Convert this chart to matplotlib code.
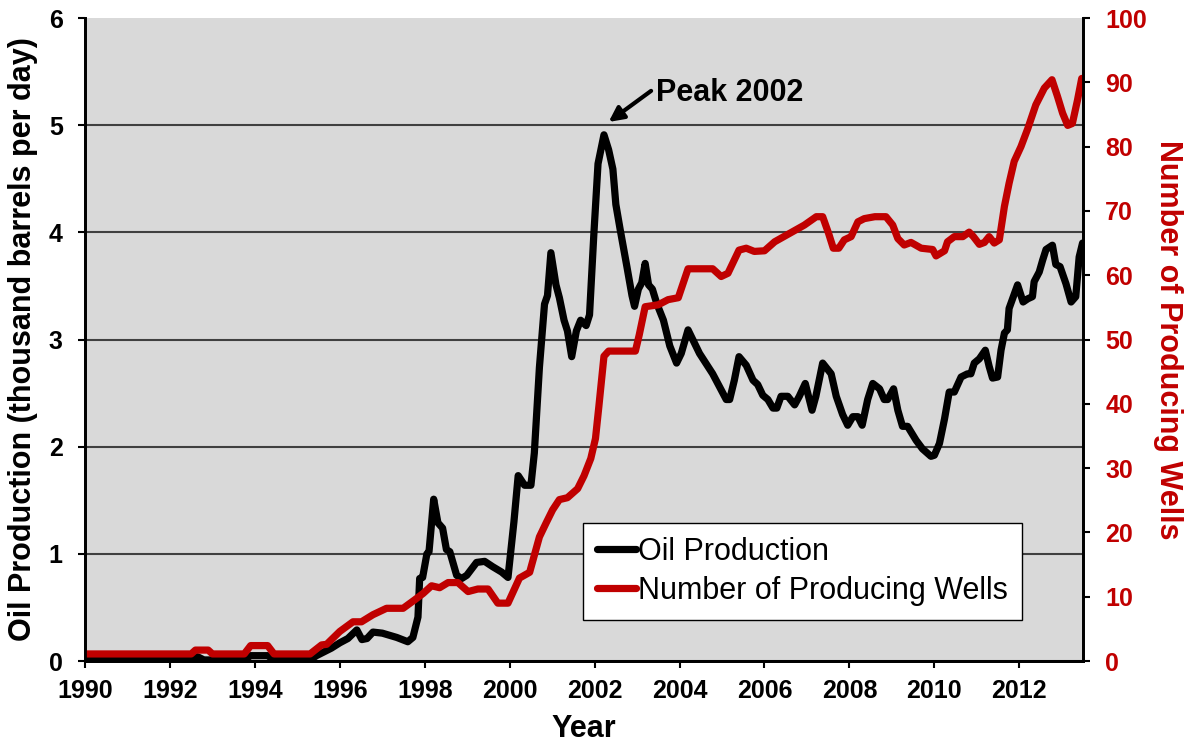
import matplotlib
matplotlib.use('Agg')
import matplotlib.pyplot as plt

plt.rcParams['font.family'] = ['Liberation Sans', 'DejaVu Sans']

# 石油产量 (千桶/天)
oil_years = [1990.0, 1992.5, 1992.65, 1992.8, 1993.75, 1993.9, 1994.3, 1994.45, 1995.3, 1995.45,
             1995.6, 1995.8, 1996.0, 1996.19, 1996.4, 1996.52, 1996.64, 1996.78, 1997.0, 1997.34,
             1997.6, 1997.72, 1997.84, 1997.88, 1997.95, 1998.05, 1998.1, 1998.21, 1998.31, 1998.42,
             1998.51, 1998.59, 1998.75, 1998.87, 1998.99, 1999.22, 1999.41, 1999.6, 1999.81, 1999.96,
             2000.1, 2000.2, 2000.35, 2000.5, 2000.58, 2000.7, 2000.82, 2000.89, 2000.97, 2001.09,
             2001.17, 2001.28, 2001.36, 2001.46, 2001.57, 2001.67, 2001.8, 2001.88, 2001.98, 2002.08,
             2002.22, 2002.33, 2002.43, 2002.5, 2002.6, 2002.76, 2002.88, 2002.94, 2003.03, 2003.11,
             2003.19, 2003.27, 2003.36, 2003.46, 2003.62, 2003.77, 2003.93, 2004.04, 2004.2, 2004.47,
             2004.78, 2005.1, 2005.18, 2005.29, 2005.4, 2005.57, 2005.73, 2005.84, 2005.96, 2006.08,
             2006.2, 2006.29, 2006.39, 2006.55, 2006.71, 2006.82, 2006.96, 2007.12, 2007.21, 2007.37,
             2007.57, 2007.69, 2007.84, 2007.96, 2008.08, 2008.2, 2008.3, 2008.43, 2008.55, 2008.71,
             2008.82, 2008.9, 2009.04, 2009.14, 2009.25, 2009.37, 2009.57, 2009.72, 2009.92, 2010.0,
             2010.12, 2010.24, 2010.35, 2010.47, 2010.63, 2010.78, 2010.86, 2010.94, 2011.06, 2011.2,
             2011.29, 2011.37, 2011.49, 2011.57, 2011.65, 2011.72, 2011.76, 2011.86, 2011.96, 2012.09,
             2012.2, 2012.31, 2012.35, 2012.47, 2012.55, 2012.63, 2012.78, 2012.86, 2012.96, 2013.1,
             2013.22, 2013.33, 2013.41, 2013.49]
oil_vals = [0.01, 0.01, 0.04, 0.01, 0.01, 0.05, 0.05, 0.01, 0.01, 0.05,
            0.08, 0.12, 0.17, 0.21, 0.29, 0.20, 0.21, 0.27, 0.26, 0.22,
            0.18, 0.22, 0.41, 0.77, 0.78, 1.00, 1.02, 1.51, 1.29, 1.24,
            1.04, 1.02, 0.80, 0.77, 0.80, 0.92, 0.93, 0.88, 0.83, 0.78,
            1.30, 1.73, 1.64, 1.64, 1.94, 2.74, 3.33, 3.41, 3.81, 3.51,
            3.39, 3.18, 3.08, 2.84, 3.08, 3.18, 3.13, 3.23, 3.97, 4.64,
            4.91, 4.77, 4.59, 4.26, 4.03, 3.68, 3.41, 3.31, 3.47, 3.53,
            3.71, 3.51, 3.47, 3.34, 3.18, 2.94, 2.78, 2.87, 3.09, 2.87,
            2.68, 2.44, 2.44, 2.62, 2.84, 2.76, 2.62, 2.58, 2.48, 2.44,
            2.36, 2.36, 2.47, 2.47, 2.39, 2.47, 2.59, 2.34, 2.47, 2.78,
            2.68, 2.47, 2.30, 2.20, 2.28, 2.28, 2.20, 2.44, 2.59, 2.54,
            2.44, 2.44, 2.54, 2.34, 2.19, 2.19, 2.06, 1.98, 1.91, 1.92,
            2.03, 2.26, 2.51, 2.51, 2.65, 2.68, 2.68, 2.78, 2.82, 2.90,
            2.75, 2.64, 2.65, 2.90, 3.06, 3.09, 3.29, 3.40, 3.51, 3.35,
            3.38, 3.40, 3.54, 3.63, 3.74, 3.84, 3.88, 3.70, 3.68, 3.52,
            3.35, 3.40, 3.77, 3.90]

# 生产井数量
well_years = [1990.0, 1992.5, 1992.6, 1992.9, 1993.0, 1993.75, 1993.9, 1994.3, 1994.45, 1995.3,
              1995.57, 1995.69, 1996.0, 1996.31, 1996.51, 1996.78, 1997.1, 1997.49, 1997.76, 1997.96,
              1998.16, 1998.35, 1998.55, 1998.78, 1999.02, 1999.25, 1999.49, 1999.72, 1999.96, 2000.23,
              2000.47, 2000.7, 2000.86, 2001.01, 2001.17, 2001.36, 2001.6, 2001.75, 2001.91, 2002.02,
              2002.1, 2002.22, 2002.33, 2002.65, 2002.96, 2003.05, 2003.19, 2003.5, 2003.73, 2003.97,
              2004.2, 2004.78, 2004.98, 2005.14, 2005.4, 2005.57, 2005.76, 2006.0, 2006.24, 2006.59,
              2006.94, 2007.22, 2007.37, 2007.51, 2007.62, 2007.75, 2007.88, 2008.04, 2008.2, 2008.35,
              2008.6, 2008.86, 2009.02, 2009.14, 2009.29, 2009.45, 2009.69, 2009.96, 2010.04, 2010.24,
              2010.31, 2010.47, 2010.67, 2010.82, 2010.92, 2011.06, 2011.18, 2011.29, 2011.41, 2011.53,
              2011.65, 2011.76, 2011.88, 2012.04, 2012.2, 2012.39, 2012.59, 2012.77, 2012.9, 2013.02,
              2013.14, 2013.25, 2013.37, 2013.47]
well_vals = [1.1, 1.1, 1.7, 1.7, 1.1, 1.1, 2.4, 2.4, 1.1, 1.1,
             2.5, 2.6, 4.6, 6.1, 6.1, 7.2, 8.2, 8.2, 9.5, 10.5,
             11.7, 11.4, 12.2, 12.2, 10.8, 11.2, 11.2, 9.0, 9.0, 12.9,
             13.8, 19.3, 21.5, 23.5, 25.1, 25.4, 26.8, 28.8, 31.5, 34.6,
             39.6, 47.4, 48.2, 48.2, 48.2, 50.7, 55.1, 55.4, 56.2, 56.5,
             61.0, 61.0, 59.8, 60.3, 63.9, 64.2, 63.7, 63.8, 65.2, 66.5,
             67.8, 69.1, 69.1, 66.5, 64.2, 64.2, 65.5, 66.0, 68.3, 68.8,
             69.1, 69.1, 67.8, 65.7, 64.7, 65.1, 64.2, 64.0, 63.0, 63.8,
             65.2, 66.0, 66.0, 66.7, 66.0, 64.8, 65.1, 66.0, 65.0, 65.5,
             70.7, 74.3, 77.7, 80.0, 82.8, 86.5, 89.1, 90.4, 87.8, 85.2,
             83.3, 83.6, 87.2, 90.6]

x_ticks = list(range(1990, 2014, 2))
oil_ticks = [0, 1, 2, 3, 4, 5, 6]
well_ticks = list(range(0, 101, 10))

red = '#c00000'

fig = plt.figure(figsize=(11.96, 7.47), dpi=100)
ax = fig.add_axes([0.0711, 0.1151, 0.8344, 0.8608])
ax.set_facecolor('#d9d9d9')
ax2 = ax.twinx()

l1, = ax.plot(oil_years, oil_vals, color='black', lw=5.2, solid_joinstyle='round',
              solid_capstyle='round', label='Oil Production')
l2, = ax2.plot(well_years, well_vals, color=red, lw=5.2, solid_joinstyle='round',
               solid_capstyle='round', label='Number of Producing Wells')

ax.set_xlim(1990, 2013.5)
ax.set_ylim(0, 6)
ax2.set_ylim(0, 100)
ax.set_xticks(x_ticks)
ax.set_yticks(oil_ticks)
ax2.set_yticks(well_ticks)

ax.yaxis.grid(True, color='#404040', lw=1.5)
ax.get_ygridlines()[-1].set_visible(False)
ax.set_axisbelow(True)

for a in (ax, ax2):
    a.spines['top'].set_visible(False)
    for s in ('left', 'right', 'bottom'):
        a.spines[s].set_linewidth(2)
        a.spines[s].set_color('black')

ax.tick_params(axis='x', direction='out', length=5, width=1.5, labelsize=18, pad=8)
ax.tick_params(axis='y', direction='out', length=5, width=1.5, labelsize=18, pad=11)
ax2.tick_params(axis='y', direction='out', length=5, width=1.5, labelsize=18, pad=11,
                labelcolor=red)
for lab in ax.get_xticklabels() + ax.get_yticklabels() + ax2.get_yticklabels():
    lab.set_fontweight('bold')

ax.set_xlabel('Year', fontsize=22, fontweight='bold', labelpad=8)
ax.set_ylabel('Oil Production (thousand barrels per day)', fontsize=22, fontweight='bold',
              labelpad=8)
ax2.set_ylabel('Number of Producing Wells', fontsize=22, fontweight='bold', color=red,
               rotation=270, labelpad=26)

ax.text(2003.45, 5.3, 'Peak 2002', fontsize=22, fontweight='bold', va='center', ha='left')
ax.annotate('', xy=(2002.33, 5.03), xytext=(2003.33, 5.32),
            arrowprops=dict(arrowstyle='-|>', color='black', lw=3, mutation_scale=22,
                            shrinkA=0, shrinkB=0))

leg = ax2.legend(handles=[l1, l2], loc='lower left', bbox_to_anchor=(0.499, 0.064),
                 fontsize=22, frameon=True, fancybox=False, handlelength=1.3,
                 handletextpad=0.05, borderpad=0.45, labelspacing=0.3, borderaxespad=0)
leg.get_frame().set_edgecolor('black')
leg.get_frame().set_linewidth(1)
leg.get_frame().set_facecolor('white')
leg.get_frame().set_alpha(1)

fig.savefig('out.png', dpi=100)
